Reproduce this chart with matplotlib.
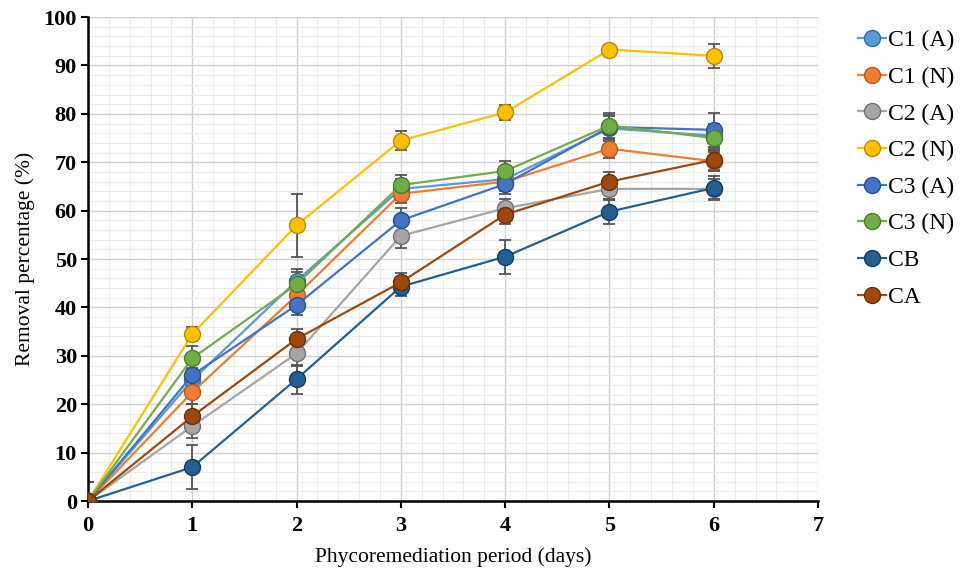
import numpy as np
import matplotlib
matplotlib.use('Agg')
import matplotlib.pyplot as plt
from matplotlib.ticker import MultipleLocator

days = [0, 1, 2, 3, 4, 5, 6]
labels = ['C1 (A)', 'C1 (N)', 'C2 (A)', 'C2 (N)', 'C3 (A)', 'C3 (N)', 'CB', 'CA']

c1_a = [0, 25.0, 45.5, 64.5, 66.5, 77.0, 75.5]
c1_n = [0, 22.5, 42.5, 63.5, 66.0, 72.8, 70.2]
c2_a = [0, 15.5, 30.5, 54.8, 60.5, 64.5, 64.5]
c2_n = [0, 34.5, 57.0, 74.5, 80.3, 93.3, 92.0]
c3_a = [0, 26.0, 40.5, 58.0, 65.5, 77.3, 76.7]
c3_n = [0, 29.5, 44.8, 65.3, 68.2, 77.6, 75.0]
cb = [0, 7.0, 25.2, 44.3, 50.5, 59.8, 64.7]
ca = [0, 17.5, 33.5, 45.2, 59.2, 66.0, 70.5]

err_c1_a = [4, 2.5, 2.5, 2.0, 2.0, 2.5, 2.5]
err_c1_n = [4, 2.5, 2.5, 2.0, 2.0, 2.0, 2.0]
err_c2_a = [4, 2.5, 2.5, 2.5, 2.0, 2.0, 2.0]
err_c2_n = [4, 1.5, 6.5, 2.0, 1.5, 1.0, 2.5]
err_c3_a = [4, 2.5, 2.0, 2.5, 2.0, 2.5, 3.5]
err_c3_n = [4, 2.5, 2.5, 2.0, 2.0, 2.5, 2.5]
err_cb = [4, 4.5, 3.0, 2.0, 3.5, 2.5, 2.5]
err_ca = [4, 2.5, 2.0, 2.0, 2.0, 2.0, 2.0]

series = [c1_a, c1_n, c2_a, c2_n, c3_a, c3_n, cb, ca]
errors = [err_c1_a, err_c1_n, err_c2_a, err_c2_n, err_c3_a, err_c3_n, err_cb, err_ca]
colors = ['#5B9BD5', '#ED7D31', '#A5A5A5', '#FFC000', '#4472C4', '#70AD47', '#255E91', '#9E480E']
edges = ['#2E6DA4', '#B85A1B', '#707070', '#B88A00', '#2A4E8F', '#4B7D2D', '#163A5C', '#6A2E08']

plt.rcParams['font.family'] = ['Liberation Serif', 'DejaVu Serif']

fig = plt.figure(figsize=(9.67, 5.70), dpi=100)
ax = fig.add_axes([0.091, 0.121, 0.755, 0.849])

for vals, err, col, edge, lab in zip(series, errors, colors, edges, labels):
    ax.errorbar(days, vals, yerr=err, fmt='none', ecolor='#555555', elinewidth=1.3,
                capsize=4, capthick=1.3, zorder=2)
    ax.plot(days, vals, '-', color=col, lw=1.6, marker='o', markersize=11.5,
            markerfacecolor=col, markeredgecolor=edge, markeredgewidth=1.0,
            label=lab, zorder=3)

ax.set_xlim(0, 7)
ax.set_ylim(0, 100)
ax.xaxis.set_major_locator(MultipleLocator(1))
ax.xaxis.set_minor_locator(MultipleLocator(0.2))
ax.yaxis.set_major_locator(MultipleLocator(10))
ax.yaxis.set_minor_locator(MultipleLocator(2))
ax.grid(which='major', color='#D0D0D0', lw=1.0)
ax.grid(which='minor', color='#EBEBEB', lw=0.8)
ax.set_axisbelow(True)

for s in ['top', 'right']:
    ax.spines[s].set_visible(False)
ax.spines['left'].set_linewidth(1.8)
ax.spines['bottom'].set_linewidth(1.8)
ax.tick_params(which='major', direction='out', length=5, width=1.5, labelsize=16, pad=3)
ax.tick_params(axis='x', which='major', pad=6)
ax.tick_params(which='minor', length=0)
for t in ax.get_xticklabels() + ax.get_yticklabels():
    t.set_fontweight('bold')

ax.set_xlabel('Phycoremediation period (days)', fontsize=15.5, labelpad=8)
ax.set_ylabel('Removal percentage (%)', fontsize=15.5, labelpad=6)

ax.legend(loc='upper left', bbox_to_anchor=(0.865, 0.985), bbox_transform=fig.transFigure,
          frameon=False, fontsize=17, labelspacing=0.64, handlelength=1.2,
          handletextpad=0.1)

fig.savefig('out.png', dpi=100)
